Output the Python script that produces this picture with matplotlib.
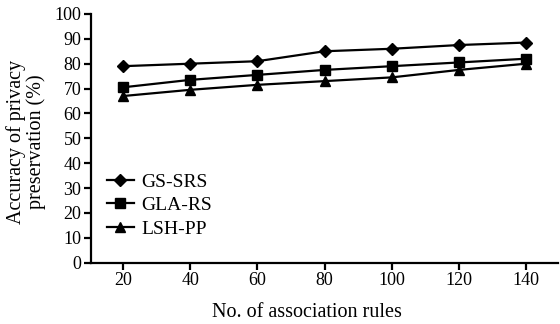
import matplotlib
matplotlib.use("Agg")
import matplotlib.pyplot as plt

rules = [20, 40, 60, 80, 100, 120, 140]
gs_srs = [79, 80, 81, 85, 86, 87.5, 88.5]
gla_rs = [70.5, 73.5, 75.5, 77.5, 79, 80.5, 82]
lsh_pp = [67, 69.5, 71.5, 73, 74.5, 77.5, 80]

series = [
    ("GS-SRS", gs_srs, "D", 6),
    ("GLA-RS", gla_rs, "s", 7),
    ("LSH-PP", lsh_pp, "^", 7.5),
]

plt.rcParams["font.family"] = ["Liberation Serif", "DejaVu Serif"]

fig = plt.figure(figsize=(5.6, 3.24), dpi=100)
ax = fig.add_axes([0.1625, 0.189, 0.834, 0.768])

for name, vals, mk, ms in series:
    ax.plot(rules, vals, color="black", lw=1.6, marker=mk, markersize=ms,
            markerfacecolor="black", markeredgecolor="black", label=name)

ax.set_xlim(10.5, 149.5)
ax.set_ylim(0, 100)
ax.set_xticks(rules)
ax.set_yticks(range(0, 101, 10))
ax.spines["top"].set_visible(False)
ax.spines["right"].set_visible(False)
for s in ("left", "bottom"):
    ax.spines[s].set_linewidth(1.6)
ax.tick_params(axis="both", direction="out", length=5, width=1.6,
               labelsize=13, pad=2)

ax.set_xlabel("No. of association rules", fontsize=14.5)
ax.xaxis.set_label_coords(0.463, -0.16)
ax.set_ylabel("Accuracy of privacy\npreservation (%)", fontsize=14.5,
              linespacing=1.0)
ax.yaxis.set_label_coords(-0.097, 0.485)

ax.legend(loc="upper left", bbox_to_anchor=(0.034, 0.36), frameon=False,
          fontsize=14, handlelength=1.4, handletextpad=0.35,
          labelspacing=0.3, borderaxespad=0, borderpad=0)

fig.savefig("out.png", dpi=100)
